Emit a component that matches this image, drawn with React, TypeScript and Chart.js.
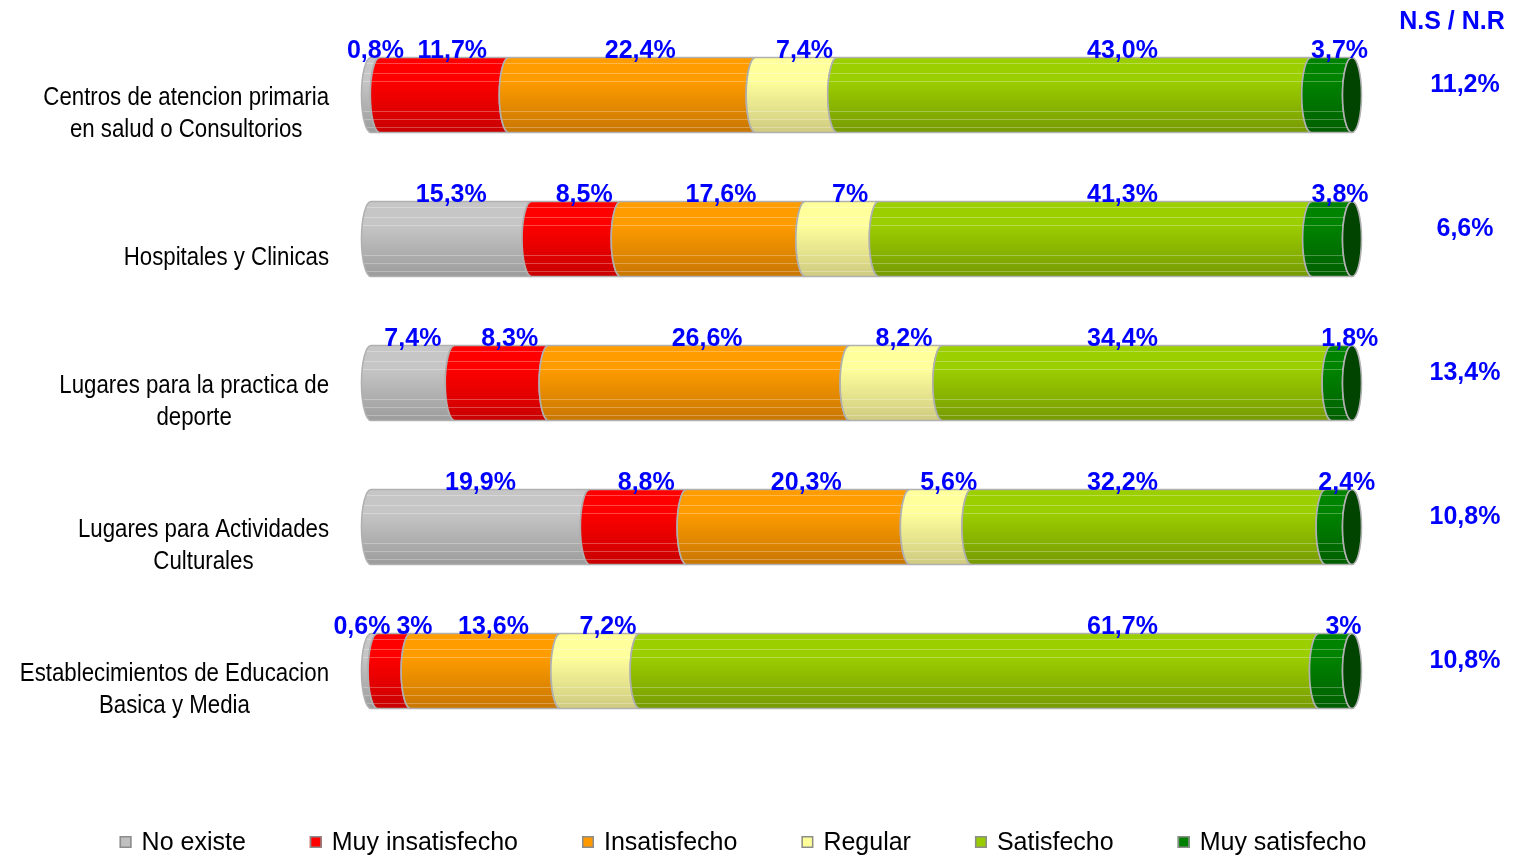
import React, { useEffect, useRef } from 'react';
import { Chart, registerables } from 'chart.js';

Chart.register(...registerables);

// ---------- data ----------
const categories: string[][] = [
  ['Centros de atencion primaria', 'en salud o Consultorios'],
  ['Hospitales y Clinicas'],
  ['Lugares para la practica de', 'deporte'],
  ['Lugares para Actividades', 'Culturales'],
  ['Establecimientos de Educacion', 'Basica y Media'],
];

const seriesNames = ['No existe', 'Muy insatisfecho', 'Insatisfecho', 'Regular', 'Satisfecho', 'Muy satisfecho'];

// values as printed in the chart (percent, decimal comma)
const noExiste = ['0,8', '15,3', '7,4', '19,9', '0,6'];
const muyInsatisfecho = ['11,7', '8,5', '8,3', '8,8', '3'];
const insatisfecho = ['22,4', '17,6', '26,6', '20,3', '13,6'];
const regular = ['7,4', '7', '8,2', '5,6', '7,2'];
const satisfecho = ['43,0', '41,3', '34,4', '32,2', '61,7'];
const muySatisfecho = ['3,7', '3,8', '1,8', '2,4', '3'];
const nsNr = ['11,2', '6,6', '13,4', '10,8', '10,8'];
const nsNrTitle = 'N.S / N.R';

// ---------- styling ----------
const FONT = '"Liberation Sans", Arial, sans-serif';
const BLUE = '#0000ff';
const palette = [
  { top: '#c6c6c6', bottom: '#9c9c9c', legend: '#c0c0c0' },
  { top: '#ff0000', bottom: '#c80000', legend: '#ff0000' },
  { top: '#ff9c00', bottom: '#c87600', legend: '#ff9900' },
  { top: '#ffff9c', bottom: '#cfca80', legend: '#ffff99' },
  { top: '#9ccf00', bottom: '#769a00', legend: '#99cc00' },
  { top: '#008400', bottom: '#005e00', legend: '#008000' },
];
const CAP_COLOR = '#004400';
const BULGE = 9.5;
const SATISFECHO_LABEL_AT = 76.6; // axis position of the manually placed "Satisfecho" labels

const num = (s: string) => parseFloat(s.replace(',', '.'));
const seriesValues = [noExiste, muyInsatisfecho, insatisfecho, regular, satisfecho, muySatisfecho];
const rowTotals = categories.map((_, r) => seriesValues.reduce((a, s) => a + num(s[r]), 0));

function segPath(ctx: CanvasRenderingContext2D, L: number, R: number, top: number, bot: number, b: number) {
  const mid = (top + bot) / 2;
  const ry = (bot - top) / 2;
  ctx.beginPath();
  ctx.moveTo(L, top);
  ctx.lineTo(R, top);
  ctx.ellipse(R, mid, b, ry, 0, -Math.PI / 2, Math.PI / 2, true);
  ctx.lineTo(L, bot);
  ctx.ellipse(L, mid, b, ry, 0, Math.PI / 2, -Math.PI / 2, false);
  ctx.closePath();
}

function drawText(
  ctx: CanvasRenderingContext2D, text: string, x: number, y: number,
  font: string, color: string, align: CanvasTextAlign, baseline: CanvasTextBaseline, sx = 1,
) {
  ctx.save();
  ctx.font = font;
  ctx.fillStyle = color;
  ctx.textAlign = align;
  ctx.textBaseline = baseline;
  ctx.translate(x, y);
  ctx.scale(sx, 1);
  ctx.fillText(text, 0, 0);
  ctx.restore();
}

const cylinderPlugin = {
  id: 'cylinderBars',
  afterDatasetsDraw(chart: any) {
    const ctx: CanvasRenderingContext2D = chart.ctx;
    const xs = chart.scales.x;
    const ys = chart.scales.y;
    const lineFracs = [0.07, 0.2, 0.31, 0.71, 0.82, 0.93];

    // bars
    for (let d = 0; d < chart.data.datasets.length; d++) {
      const meta = chart.getDatasetMeta(d);
      const pal = palette[d];
      meta.data.forEach((el: any) => {
        const p = el.getProps(['x', 'y', 'base', 'height'], true);
        const L = Math.min(p.base, p.x);
        const R = Math.max(p.base, p.x);
        const top = p.y - p.height / 2;
        const bot = p.y + p.height / 2;
        const g = ctx.createLinearGradient(0, top, 0, bot);
        g.addColorStop(0, pal.top);
        g.addColorStop(0.3, pal.top);
        g.addColorStop(1, pal.bottom);
        ctx.save();
        segPath(ctx, L, R, top, bot, BULGE);
        ctx.fillStyle = g;
        ctx.fill();
        ctx.clip();
        ctx.strokeStyle = 'rgba(255,255,255,0.28)';
        ctx.lineWidth = 1;
        lineFracs.forEach((f) => {
          const yy = Math.round(top + f * (bot - top)) + 0.5;
          ctx.beginPath();
          ctx.moveTo(L - BULGE - 2, yy);
          ctx.lineTo(R + 2, yy);
          ctx.stroke();
        });
        ctx.restore();
        ctx.save();
        segPath(ctx, L, R, top, bot, BULGE);
        ctx.strokeStyle = '#b0b0b0';
        ctx.lineWidth = 1.6;
        ctx.stroke();
        if (d === chart.data.datasets.length - 1) {
          ctx.beginPath();
          ctx.ellipse(R, p.y, BULGE, p.height / 2, 0, 0, Math.PI * 2);
          ctx.fillStyle = CAP_COLOR;
          ctx.fill();
          ctx.strokeStyle = '#b0b0b0';
          ctx.stroke();
        }
        ctx.restore();
      });
    }

    // value labels
    const valueFont = `bold 25px ${FONT}`;
    ctx.save();
    ctx.font = valueFont;
    for (let r = 0; r < categories.length; r++) {
      const items: { text: string; cx: number; w: number; y: number }[] = [];
      for (let d = 0; d < seriesValues.length; d++) {
        const el: any = chart.getDatasetMeta(d).data[r];
        const p = el.getProps(['x', 'y', 'base', 'height'], true);
        const text = seriesValues[d][r] + '%';
        const w = ctx.measureText(text).width;
        const shift = d === 0 ? 0 : 8;
        const cx = d === 4 ? xs.getPixelForValue(SATISFECHO_LABEL_AT) : (p.base + p.x) / 2 + shift;
        items.push({ text, cx, w, y: p.y - p.height / 2 });
      }
      for (let k = 0; k < items.length - 1; k++) {
        const a = items[k], b = items[k + 1];
        const overlap = a.cx + a.w / 2 + 6 - (b.cx - b.w / 2);
        if (overlap > 0) {
          a.cx -= overlap / 2;
          b.cx += overlap / 2;
        }
      }
      items.forEach((it) => drawText(ctx, it.text, it.cx, it.y, valueFont, BLUE, 'center', 'alphabetic'));
    }
    ctx.restore();

    // N.S / N.R column
    drawText(ctx, nsNrTitle, 1452, 22, valueFont, BLUE, 'center', 'middle');
    nsNr.forEach((v, r) => {
      const yc = ys.getPixelForValue(r);
      drawText(ctx, v + '%', 1465, yc - 10, valueFont, BLUE, 'center', 'middle');
    });

    // category labels (right aligned block, lines centered within block)
    const catFont = `25px ${FONT}`;
    const catSx = 0.89;
    ctx.save();
    ctx.font = catFont;
    categories.forEach((lines, r) => {
      const yc = ys.getPixelForValue(r) + 19;
      const maxW = Math.max(...lines.map((l) => ctx.measureText(l).width * catSx));
      const center = 329 - maxW / 2;
      const lh = 32;
      lines.forEach((l, i) => {
        const yy = yc + (i - (lines.length - 1) / 2) * lh;
        drawText(ctx, l, center, yy, catFont, '#000000', 'center', 'middle', catSx);
      });
    });
    ctx.restore();

    // legend
    const legFont = `25px ${FONT}`;
    const legSx = 1.0;
    ctx.save();
    ctx.font = legFont;
    const box = 12;
    const gapBoxText = 10;
    const gapItems = 64;
    const widths = seriesNames.map((n) => ctx.measureText(n).width * legSx);
    const total = widths.reduce((a, w) => a + w + box + gapBoxText, 0) + gapItems * (seriesNames.length - 1);
    let x = 743 - total / 2;
    const ly = 842;
    seriesNames.forEach((n, i) => {
      ctx.fillStyle = palette[i].legend;
      ctx.fillRect(x, ly - box / 2, box, box);
      ctx.strokeStyle = '#8c8c8c';
      ctx.lineWidth = 1.5;
      ctx.strokeRect(x + 0.75, ly - box / 2 + 0.75, box - 1.5, box - 1.5);
      drawText(ctx, n, x + box + gapBoxText, ly + 1, legFont, '#000000', 'left', 'middle', legSx);
      x += box + gapBoxText + widths[i] + gapItems;
    });
    ctx.restore();
  },
};

export default function App() {
  const canvasRef = useRef<HTMLCanvasElement | null>(null);

  useEffect(() => {
    if (!canvasRef.current) return;
    const datasets = seriesNames.map((name, d) => ({
      label: name,
      data: seriesValues[d].map((v, r) => (num(v) / rowTotals[r]) * 100),
      backgroundColor: 'rgba(0,0,0,0)',
      borderWidth: 0,
      categoryPercentage: 1,
      barPercentage: 0.52,
    }));
    const chart = new Chart(canvasRef.current, {
      type: 'bar',
      data: { labels: categories.map((c) => c.join(' ')), datasets },
      options: {
        indexAxis: 'y',
        animation: false,
        responsive: true,
        maintainAspectRatio: false,
        events: [],
        layout: { padding: { left: 371, right: 172, top: 23, bottom: 114 } },
        scales: {
          x: { stacked: true, min: 0, max: 100, display: false },
          y: { stacked: true, display: false },
        },
        plugins: { legend: { display: false }, tooltip: { enabled: false } },
      },
      plugins: [cylinderPlugin],
    } as any);
    return () => chart.destroy();
  }, []);

  return (
    <div style={{ position: 'fixed', left: 0, top: 0, width: 1524, height: 857, background: '#ffffff' }}>
      <canvas ref={canvasRef} />
    </div>
  );
}
